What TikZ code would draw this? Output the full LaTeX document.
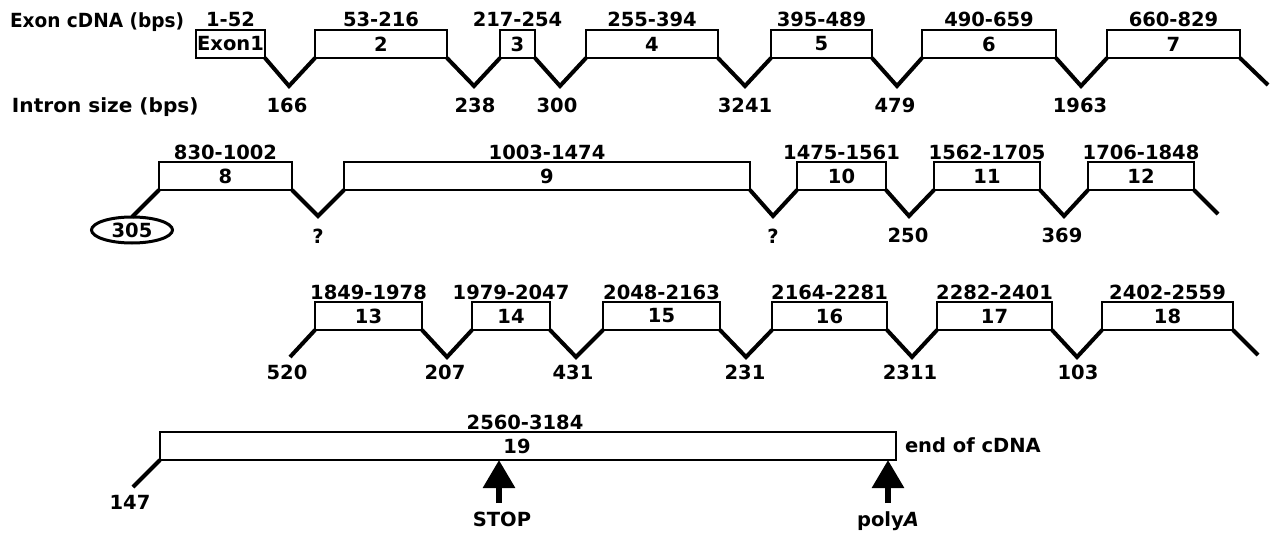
\documentclass[tikz,border=0pt]{standalone}
\usepackage{fontspec}
\usepackage{graphicx}
\setmainfont{DejaVu Sans}
\usetikzlibrary{arrows.meta,calc,shapes.geometric}
\begin{document}
\begin{tikzpicture}[x=1pt,y=-1pt,
  txt/.style={font=\bfseries\fontsize{19.5pt}{21pt}\selectfont, inner sep=0pt, outer sep=0pt},
  head/.style={txt, anchor=base west},
  exon/.style={txt, draw, line width=2pt, rectangle, minimum height=28pt},
  intron/.style={line width=4pt},
  rng/.style={txt, anchor=base},
  isz/.style={txt, anchor=base},
  marker/.style={line width=6pt, -{Triangle[length=28pt,width=31pt]}}
]
\useasboundingbox (0,0) rectangle (1272,535);

% headings
\node[head] (hexon) at (10,28) {\scalebox{0.95}[1]{Exon cDNA (bps)}};
\node[head] (hintron) at (12,112) {\scalebox{1.03}[1]{Intron size (bps)}};

% ---------- row 1 ----------
\node[exon, minimum width=69pt]  (e1) at (230.5,44) {Exon1};
\node[exon, minimum width=132pt] (e2) at (381,44) {2};
\node[exon, minimum width=35pt]  (e3) at (517.5,44) {3};
\node[exon, minimum width=132pt] (e4) at (652,44) {4};
\node[exon, minimum width=101pt] (e5) at (821.5,44) {5};
\node[exon, minimum width=134pt] (e6) at (989,44) {6};
\node[exon, minimum width=133pt] (e7) at (1173.5,44) {7};
\foreach \i/\t in {1/1-52,2/53-216,3/217-254,4/255-394,5/395-489,6/490-659,7/660-829}
  \node[rng] (r\i) at ($(e\i.north)+(0,-3)$) {\t};

\coordinate (v1) at (289,86);
\coordinate (v2) at (474,86);
\coordinate (v3) at (560,86);
\coordinate (v4) at (745,86);
\coordinate (v5) at (897,86);
\coordinate (v6) at (1081,86);
\coordinate (t7) at (1268,85);
\draw[intron] (e1.south east) -- (v1) -- (e2.south west);
\draw[intron] (e2.south east) -- (v2) -- (e3.south west);
\draw[intron] (e3.south east) -- (v3) -- (e4.south west);
\draw[intron] (e4.south east) -- (v4) -- (e5.south west);
\draw[intron] (e5.south east) -- (v5) -- (e6.south west);
\draw[intron] (e6.south east) -- (v6) -- (e7.south west);
\draw[intron] (e7.south east) -- (t7);
\node[isz] (i1) at (287,113) {166};
\node[isz] (i2) at (475,113) {238};
\node[isz] (i3) at (557,113) {300};
\node[isz] (i4) at (745,113) {3241};
\node[isz] (i5) at (895,113) {479};
\node[isz] (i6) at (1080,113) {1963};

% ---------- row 2 ----------
\node[exon, minimum width=133pt] (e8)  at (225.5,176) {8};
\node[exon, minimum width=406pt] (e9)  at (547,176) {9};
\node[exon, minimum width=89pt]  (e10) at (841.5,176) {10};
\node[exon, minimum width=106pt] (e11) at (987,176) {11};
\node[exon, minimum width=106pt] (e12) at (1141,176) {12};
\foreach \i/\t in {8/830-1002,9/1003-1474,10/1475-1561,11/1562-1705,12/1706-1848}
  \node[rng] (r\i) at ($(e\i.north)+(0,-3)$) {\t};

\node[txt, draw, ellipse, line width=3pt, minimum width=81pt, minimum height=26pt] (i7) at (132,230) {305};
\coordinate (v8)  at (318,216);
\coordinate (v9)  at (773,216);
\coordinate (v10) at (909,216);
\coordinate (v11) at (1064,216);
\coordinate (t12) at (1218,214);
\draw[intron] (i7.north) -- (e8.south west);
\draw[intron] (e8.south east) -- (v8) -- (e9.south west);
\draw[intron] (e9.south east) -- (v9) -- (e10.south west);
\draw[intron] (e10.south east) -- (v10) -- (e11.south west);
\draw[intron] (e11.south east) -- (v11) -- (e12.south west);
\draw[intron] (e12.south east) -- (t12);
\node[isz] (i8)  at (318,243) {?};
\node[isz] (i9)  at (773,243) {?};
\node[isz] (i10) at (908,242) {250};
\node[isz] (i11) at (1062,242) {369};

% ---------- row 3 ----------
\node[exon, minimum width=107pt] (e13) at (368.5,316) {13};
\node[exon, minimum width=78pt]  (e14) at (511,316) {14};
\node[exon, minimum width=117pt] (e15) at (661.5,316) {15};
\node[exon, minimum width=115pt] (e16) at (829.5,316) {16};
\node[exon, minimum width=115pt] (e17) at (994.5,316) {17};
\node[exon, minimum width=131pt] (e18) at (1167.5,316) {18};
\foreach \i/\t in {13/1849-1978,14/1979-2047,15/2048-2163,16/2164-2281,17/2282-2401,18/2402-2559}
  \node[rng] (r\i) at ($(e\i.north)+(0,-3)$) {\t};

\coordinate (s13) at (290,357);
\coordinate (v13) at (447,357);
\coordinate (v14) at (576,357);
\coordinate (v15) at (746,357);
\coordinate (v16) at (912,357);
\coordinate (v17) at (1077,357);
\coordinate (t18) at (1258,355);
\draw[intron] (s13) -- (e13.south west);
\draw[intron] (e13.south east) -- (v13) -- (e14.south west);
\draw[intron] (e14.south east) -- (v14) -- (e15.south west);
\draw[intron] (e15.south east) -- (v15) -- (e16.south west);
\draw[intron] (e16.south east) -- (v16) -- (e17.south west);
\draw[intron] (e17.south east) -- (v17) -- (e18.south west);
\draw[intron] (e18.south east) -- (t18);
\node[isz] (i12) at (287,379) {520};
\node[isz] (i13) at (445,379) {207};
\node[isz] (i14) at (573,379) {431};
\node[isz] (i15) at (745,379) {231};
\node[isz] (i16) at (910,379) {2311};
\node[isz] (i17) at (1078,379) {103};

% ---------- row 4 ----------
\node[exon, minimum width=736pt] (e19) at (528,446) {};
\node[txt] (n19) at (517,446) {19};
\node[rng] (r19) at (525,429) {2560-3184};
\node[txt, anchor=base west] (endc) at (905,452) {end of cDNA};
\coordinate (s19) at (133,487);
\draw[intron] (s19) -- (e19.south west);
\node[isz] (i18) at (130,509) {147};

\coordinate (stopb) at (499,503);
\coordinate (stopt) at (499,460);
\coordinate (polyb) at (888,503);
\coordinate (polyt) at (888,460);
\draw[marker] (stopb) -- (stopt);
\draw[marker] (polyb) -- (polyt);
\node[isz] (stop) at (502,526) {STOP};
\node[isz] (polya) at (888,526) {poly\textit{A}};
\end{tikzpicture}
\end{document}
